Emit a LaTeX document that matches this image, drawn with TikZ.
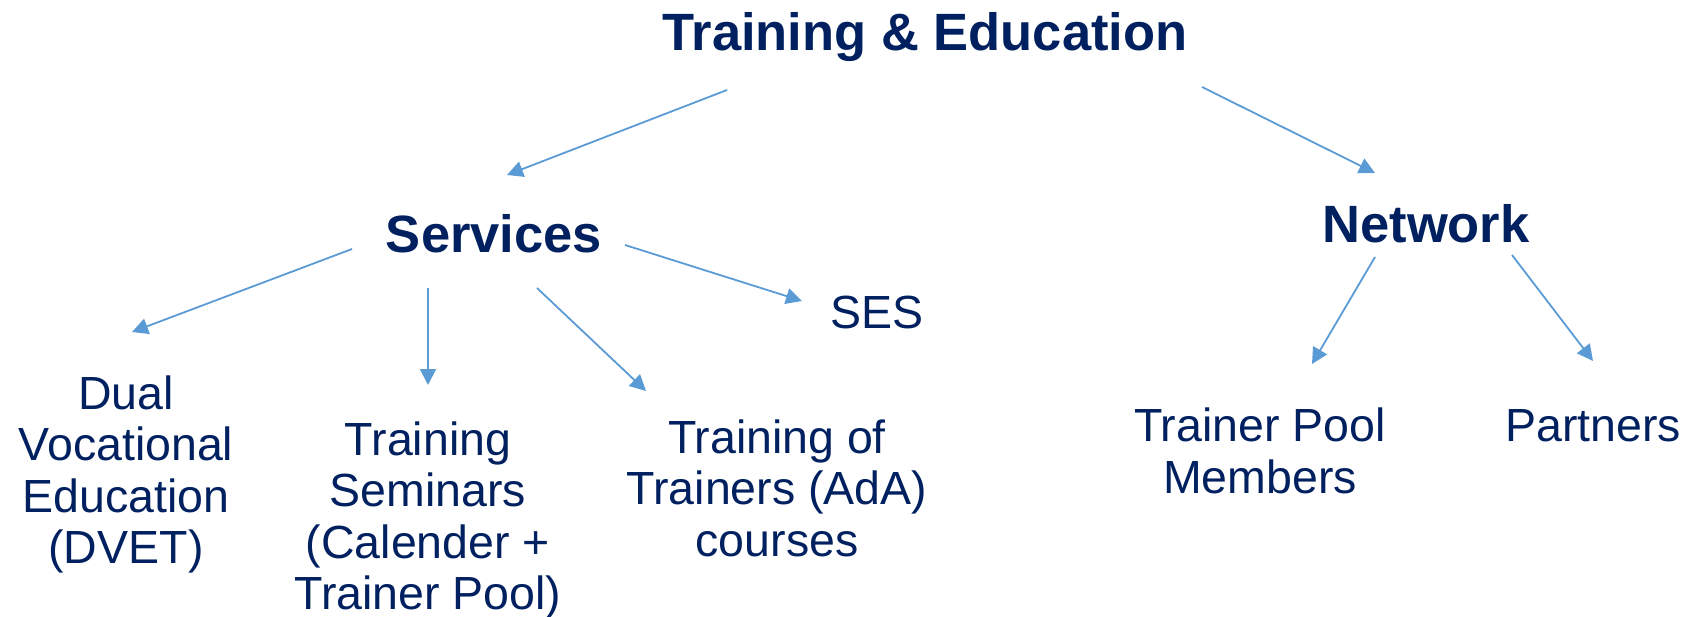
\documentclass[tikz,border=0pt]{standalone}
\usepackage{fontspec}
\setmainfont{Liberation Sans}
\usetikzlibrary{arrows.meta}
\definecolor{navy}{RGB}{0,32,96}
\definecolor{arrowblue}{RGB}{91,155,213}
\tikzset{
  head/.style={text=navy, inner sep=0pt, anchor=base, font=\fontsize{52.5}{58}\selectfont\bfseries},
  item/.style={text=navy, inner sep=0pt, anchor=base, align=center, font=\fontsize{46.5}{51.5}\selectfont},
  conn/.style={draw=arrowblue, line width=1.8pt, -{Triangle[length=16pt,width=16pt]}}
}
\begin{document}
\begin{tikzpicture}[x=1pt,y=-1pt]
\useasboundingbox (0,0) rectangle (1693,617);
\node[head] (te) at (925,51) {Training \& Education};
\node[head] (services) at (494,253) {Services};
\node[head] (network) at (1426,243) {Network};
\node[item] (ses) at (877,328) {SES};
\node[item] (dvet) at (126,563.5) {Dual\\Vocational\\Education\\(DVET)};
\node[item] (sem) at (428,609.5) {Training\\Seminars\\(Calender +\\Trainer Pool)};
\node[item] (ada) at (777,556) {Training of\\Trainers (AdA)\\courses};
\node[item] (tpm) at (1260,493) {Trainer Pool\\Members};
\node[item] (partners) at (1593,441) {Partners};
\draw[conn] ([shift={(-198,39)}]te.base) -- ([shift={(13,-78)}]services.base);
\draw[conn] ([shift={(277,36)}]te.base) -- ([shift={(-51,-70)}]network.base);
\draw[conn] ([shift={(-142,-4)}]services.base) -- ([shift={(6,-231.5)}]dvet.base);
\draw[conn] ([shift={(-66,35)}]services.base) -- ([shift={(0,-224.5)}]sem.base);
\draw[conn] ([shift={(43,35)}]services.base) -- ([shift={(-131,-165)}]ada.base);
\draw[conn] ([shift={(131,-8)}]services.base) -- ([shift={(-75,-27)}]ses.base);
\draw[conn] ([shift={(-51,14)}]network.base) -- ([shift={(52,-129)}]tpm.base);
\draw[conn] ([shift={(86,12)}]network.base) -- ([shift={(0,-80)}]partners.base);
\end{tikzpicture}
\end{document}
